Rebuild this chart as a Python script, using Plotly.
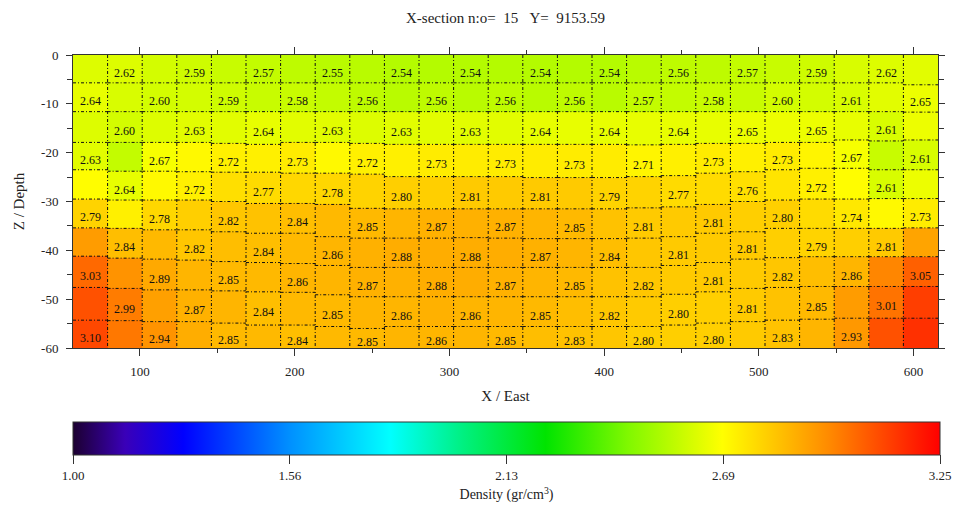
import plotly.graph_objects as go

# ---------------------------------------------------------------------------
# Density model, cross-section 15 (Y = 9153.59)
# 25 blocks along X, 10 layers in depth; values in gr/cm^3, top layer first
# ---------------------------------------------------------------------------
n_cols = 25
block_x0 = 56.7      # west edge of the first block (m)
block_dx = 22.364    # block width along X (m)
model_depth = 60.0

density = [
    [2.62, 2.62, 2.60, 2.59, 2.58, 2.57, 2.56, 2.55, 2.55, 2.54, 2.54, 2.54, 2.54,
     2.54, 2.54, 2.54, 2.55, 2.56, 2.56, 2.57, 2.58, 2.59, 2.61, 2.62, 2.63],
    [2.64, 2.61, 2.60, 2.60, 2.59, 2.58, 2.58, 2.57, 2.56, 2.55, 2.56, 2.55, 2.56,
     2.55, 2.56, 2.55, 2.57, 2.57, 2.58, 2.58, 2.60, 2.60, 2.61, 2.63, 2.65],
    [2.62, 2.60, 2.62, 2.63, 2.63, 2.64, 2.63, 2.63, 2.62, 2.63, 2.63, 2.63, 2.63,
     2.64, 2.64, 2.64, 2.64, 2.64, 2.64, 2.65, 2.65, 2.65, 2.64, 2.61, 2.65],
    [2.63, 2.57, 2.67, 2.70, 2.72, 2.72, 2.73, 2.70, 2.72, 2.72, 2.73, 2.73, 2.73,
     2.73, 2.73, 2.73, 2.71, 2.72, 2.73, 2.72, 2.73, 2.71, 2.67, 2.58, 2.61],
    [2.69, 2.64, 2.70, 2.72, 2.76, 2.77, 2.78, 2.78, 2.79, 2.80, 2.80, 2.81, 2.81,
     2.81, 2.81, 2.79, 2.79, 2.77, 2.77, 2.76, 2.75, 2.72, 2.69, 2.61, 2.65],
    [2.79, 2.72, 2.78, 2.80, 2.82, 2.83, 2.84, 2.85, 2.85, 2.86, 2.87, 2.87, 2.87,
     2.86, 2.85, 2.83, 2.81, 2.81, 2.81, 2.80, 2.80, 2.77, 2.74, 2.70, 2.73],
    [2.92, 2.84, 2.85, 2.82, 2.84, 2.84, 2.85, 2.86, 2.87, 2.88, 2.88, 2.88, 2.88,
     2.87, 2.86, 2.84, 2.82, 2.81, 2.81, 2.81, 2.80, 2.79, 2.80, 2.81, 2.90],
    [3.03, 2.94, 2.89, 2.86, 2.85, 2.85, 2.86, 2.86, 2.87, 2.87, 2.88, 2.88, 2.87,
     2.86, 2.85, 2.83, 2.82, 2.81, 2.81, 2.81, 2.82, 2.84, 2.86, 2.97, 3.05],
    [3.08, 2.99, 2.91, 2.87, 2.86, 2.84, 2.85, 2.85, 2.86, 2.86, 2.87, 2.86, 2.86,
     2.85, 2.84, 2.82, 2.81, 2.80, 2.80, 2.81, 2.83, 2.85, 2.92, 3.01, 3.12],
    [3.10, 3.00, 2.94, 2.88, 2.85, 2.85, 2.84, 2.85, 2.85, 2.86, 2.86, 2.86, 2.85,
     2.84, 2.83, 2.82, 2.80, 2.80, 2.80, 2.81, 2.83, 2.86, 2.93, 3.08, 3.15],
]

# Depth (m, positive down) of the interfaces between consecutive layers, per block
layer_bounds = [
    [5.7] * 24 + [6.1],
    [11.6] * 24 + [11.7],
    [17.9, 17.9, 17.9, 17.9, 18.1, 18.3, 17.9, 17.9, 18.1, 18.3, 18.3, 18.3, 18.3,
     18.3, 18.3, 18.3, 18.4, 18.3, 18.1, 18.1, 17.9, 17.9, 17.4, 17.6, 17.4],
    [23.5, 23.8, 23.8, 23.9, 24.0, 24.0, 24.2, 24.2, 24.4, 24.9, 24.9, 24.9, 24.9,
     25.1, 25.1, 25.1, 24.9, 24.7, 24.2, 23.9, 23.5, 23.2, 23.2, 23.5, 23.5],
    [29.5, 29.7, 29.7, 29.7, 30.0, 30.4, 30.4, 30.6, 31.4, 31.5, 31.5, 31.5, 31.5,
     31.5, 31.5, 31.5, 31.3, 31.1, 30.6, 30.0, 29.7, 29.5, 29.5, 29.4, 29.4],
    [35.4, 35.5, 35.8, 35.8, 36.2, 36.5, 36.5, 37.2, 37.5, 37.5, 37.5, 37.4, 37.5,
     37.6, 37.6, 37.6, 37.5, 37.2, 36.5, 36.2, 35.5, 35.5, 35.5, 35.5, 35.4],
    [41.2, 41.6, 41.8, 42.0, 42.3, 42.5, 42.7, 43.1, 43.5, 43.5, 43.5, 43.5, 43.5,
     43.5, 43.5, 43.5, 43.5, 43.1, 42.5, 41.8, 41.5, 41.3, 41.3, 41.3, 41.3],
    [47.6, 47.8, 48.1, 48.1, 48.3, 48.5, 48.6, 49.1, 49.5, 49.5, 49.5, 49.5, 49.5,
     49.5, 49.5, 49.5, 49.5, 49.0, 48.5, 47.8, 47.6, 47.4, 47.4, 47.4, 47.4],
    [54.3, 54.4, 54.6, 54.6, 54.9, 55.3, 55.3, 55.6, 56.0, 55.6, 55.6, 55.6, 55.6,
     55.6, 55.6, 55.6, 55.6, 55.3, 54.9, 54.6, 54.3, 54.1, 53.9, 53.9, 53.9],
]

# Values are printed in a checkerboard; one corner block has no printed value
unprinted_blocks = [(9, 24)]

density_range = [1.00, 3.25]
colorbar_ticks = [1.00, 1.5625, 2.125, 2.6875, 3.25]
colorbar_ticktext = ["1.00", "1.56", "2.13", "2.69", "3.25"]

x_ticks = [100, 200, 300, 400, 500, 600]
x_ticktext = ["100", "200", "300", "400", "500", "600"]
z_ticks = [0, -10, -20, -30, -40, -50, -60]
z_ticktext = ["0", "-10", "-20", "-30", "-40", "-50", "-60"]

title_text = "X-section n:o=\u00a0\u00a015\u00a0\u00a0\u00a0Y=\u00a0\u00a09153.59"

# Rainbow density palette
palette = [
    [0.000, "#1c0030"],
    [0.060, "#3a00b8"],
    [0.127, "#0000ff"],
    [0.250, "#0090ff"],
    [0.366, "#00ffff"],
    [0.450, "#00f080"],
    [0.545, "#00e400"],
    [0.640, "#80f800"],
    [0.749, "#ffff00"],
    [0.870, "#ff8c00"],
    [1.000, "#ff0000"],
]

SERIF = "Liberation Serif"

# ---------------------------------------------------------------------------
# Geometry derived from the model description
# ---------------------------------------------------------------------------
n_layers = len(density)
x_edges = [block_x0 + i * block_dx for i in range(n_cols + 1)]


def col_interfaces(c):
    """Top and bottom depth of every layer of block c."""
    inner = [layer_bounds[k][c] for k in range(n_layers - 1)]
    return [0.0] + inner + [model_depth]


# Heatmap bricks: split depth at every interface of every block
all_depths = sorted({0.0, model_depth} | {d for row in layer_bounds for d in row})
y_edges = [-d for d in reversed(all_depths)]          # ascending elevation
z = []
for j in range(len(y_edges) - 1):
    mid = -(y_edges[j] + y_edges[j + 1]) / 2.0          # positive depth
    zrow = []
    for c in range(n_cols):
        iface = col_interfaces(c)
        layer = sum(1 for d in iface[1:-1] if d < mid)
        zrow.append(density[layer][c])
    z.append(zrow)

fig = go.Figure()

fig.add_trace(go.Heatmap(
    x=x_edges, y=y_edges, z=z,
    zmin=density_range[0], zmax=density_range[1],
    colorscale=palette, zsmooth=False,
    hovertemplate="X %{x:.1f}<br>Z %{y:.1f}<br>%{z:.2f} gr/cm³<extra></extra>",
    colorbar=dict(
        orientation="h",
        x=0, xanchor="left", xref="paper",
        y=-0.2526, yanchor="top", yref="paper",
        len=1.0025, lenmode="fraction",
        thickness=33, thicknessmode="pixels",
        xpad=0, ypad=0,
        outlinewidth=1, outlinecolor="#333333",
        ticks="outside", ticklen=9, tickwidth=1, tickcolor="#333333",
        tickvals=colorbar_ticks, ticktext=colorbar_ticktext,
        tickfont=dict(family=SERIF, size=13, color="#222222"),
        title=dict(text="Density (gr/cm<sup>3</sup>)", side="bottom",
                   font=dict(family=SERIF, size=14, color="#222222")),
    ),
))

# Block outlines (dash-dot)
lx, ly = [], []
for xe in x_edges[1:-1]:
    lx += [xe, xe, None]
    ly += [0.0, -model_depth, None]
for c in range(n_cols):
    for d in col_interfaces(c)[1:-1]:
        lx += [x_edges[c], x_edges[c + 1], None]
        ly += [-d, -d, None]
fig.add_trace(go.Scatter(
    x=lx, y=ly, mode="lines", hoverinfo="skip", showlegend=False,
    line=dict(color="#111111", width=1, dash="3px,2px,1px,2px"),
))

# Printed density values
for r in range(n_layers):
    for c in range(n_cols):
        if (r + c) % 2 == 0 or (r, c) in unprinted_blocks:
            continue
        iface = col_interfaces(c)
        fig.add_annotation(
            x=(x_edges[c] + x_edges[c + 1]) / 2.0,
            y=-(iface[r] + iface[r + 1]) / 2.0,
            text=f"{density[r][c]:.2f}",
            showarrow=False, yshift=-4,
            font=dict(family=SERIF, size=12, color="#111111"),
        )

axis_common = dict(
    showgrid=False, zeroline=False,
    showline=True, linecolor="#333333", linewidth=1, mirror="allticks",
    ticks="outside", tickcolor="#333333", tickwidth=1,
    tickfont=dict(family=SERIF, size=13, color="#222222"),
)

fig.update_xaxes(
    range=[x_edges[0], x_edges[-1]],
    tickmode="array", tickvals=x_ticks, ticktext=x_ticktext, ticklen=7,
    ticklabelstandoff=4,
    minor=dict(dtick=50, tick0=0, ticks="outside", ticklen=4,
               tickcolor="#333333", showgrid=False),
    title=dict(text="X / East", standoff=12,
               font=dict(family=SERIF, size=15, color="#222222")),
    **axis_common,
)
fig.update_yaxes(
    range=[-model_depth, 0],
    tickmode="array", tickvals=z_ticks, ticktext=z_ticktext, ticklen=6,
    ticklabelstandoff=5,
    minor=dict(dtick=5, tick0=0, ticks="outside", ticklen=5,
               tickcolor="#333333", showgrid=False),
    title=dict(text="Z / Depth", standoff=12,
               font=dict(family=SERIF, size=15, color="#222222")),
    **axis_common,
)

fig.update_layout(
    width=954, height=510,
    margin=dict(l=73, r=16, t=55, b=162, autoexpand=False),
    paper_bgcolor="white", plot_bgcolor="white",
    showlegend=False,
    title=dict(text=title_text, x=0.5, xref="paper", xanchor="center",
               y=1 - 18 / 510, yref="container", yanchor="middle",
               font=dict(family=SERIF, size=15, color="#222222")),
)

fig.write_html("out.html")
